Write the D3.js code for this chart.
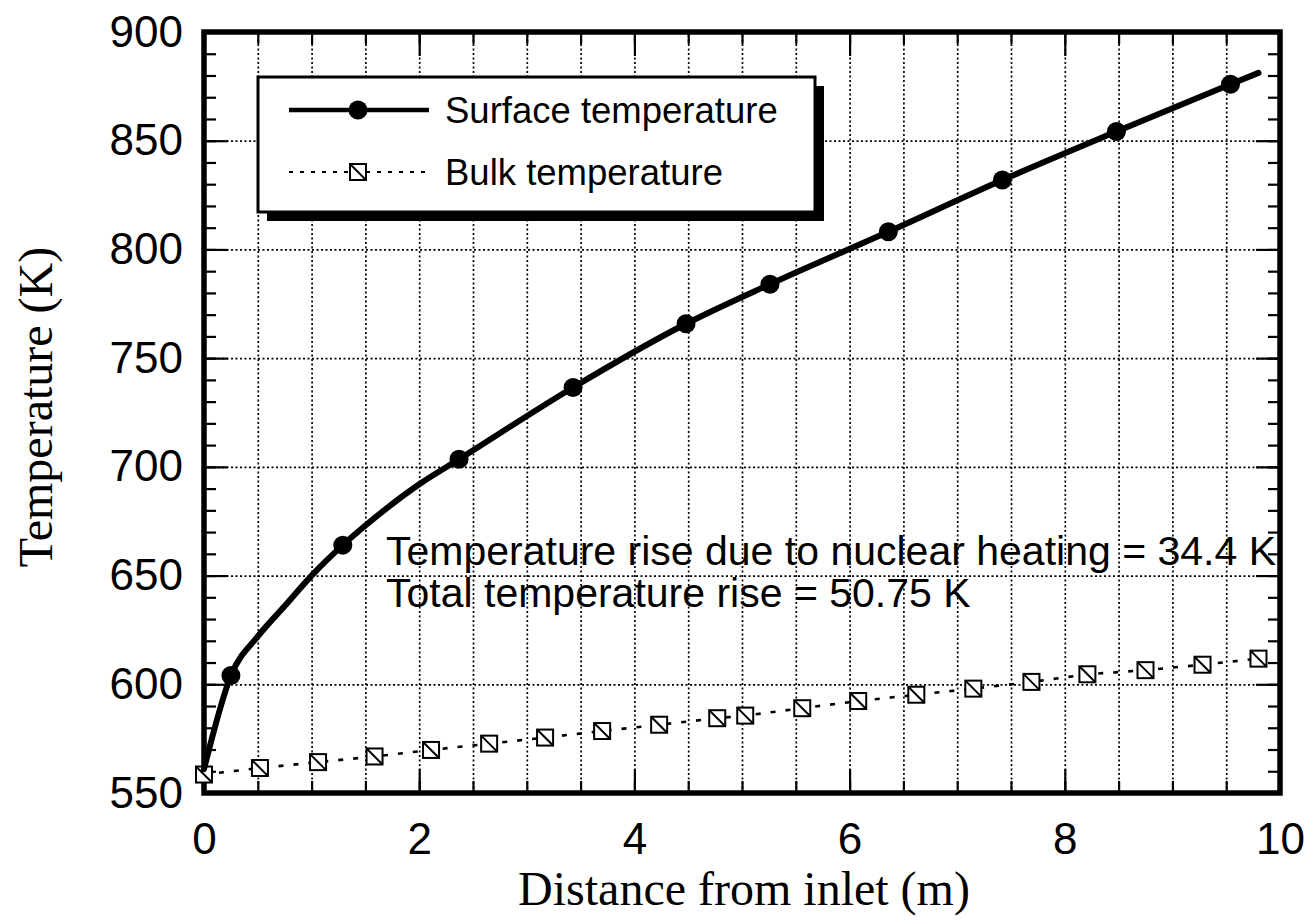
<!DOCTYPE html>
<html>
<head>
<meta charset="utf-8">
<script src="https://cdn.jsdelivr.net/npm/d3@7"></script>
<style>
  html, body { margin: 0; padding: 0; background: #fff; }
  svg { display: block; }
</style>
</head>
<body>
<svg id="chart" width="1315" height="921"></svg>
<script>
// ---------------- data ----------------
const xTickLabels = [0, 2, 4, 6, 8, 10];
const yTickLabels = [550, 600, 650, 700, 750, 800, 850, 900];

// Surface temperature: the solid curve
const surfaceLineX = [0, 0.25, 0.5, 0.75, 1.0, 1.29, 1.5, 2.0, 2.37, 3.43, 4.48, 5.26, 6.36, 7.42, 8.48, 9.54, 9.8];
const surfaceLineY = [561, 604, 622, 636, 650, 664, 673, 692, 703.5, 736.5, 765.8, 784, 808.1, 831.9, 854.2, 876, 881.2];
// Surface temperature: the filled circle markers
const surfaceMarkX = [0.25, 1.29, 2.37, 3.43, 4.48, 5.26, 6.36, 7.42, 8.48, 9.54];
const surfaceMarkY = [604, 664, 703.5, 736.5, 765.8, 784, 808.1, 831.9, 854.2, 876];

// Bulk temperature: square markers joined by a dashed line
const bulkX = [0, 0.52, 1.06, 1.585, 2.11, 2.65, 3.17, 3.70, 4.23, 4.77, 5.03, 5.56, 6.08, 6.62, 7.15, 7.69, 8.21, 8.75, 9.28, 9.80];
const bulkY = [558.5, 561.5, 564.2, 566.8, 569.8, 572.7, 575.5, 578.5, 581.4, 584.4, 585.6, 589.0, 592.3, 595.2, 598.0, 601.1, 604.6, 606.5, 609.0, 611.8];

const seriesNames = ["Surface temperature", "Bulk temperature"];
const annotationLines = ["Temperature rise due to nuclear heating = 34.4 K", "Total temperature rise = 50.75 K"];
const xTitle = "Distance from inlet (m)";
const yTitle = "Temperature (K)";

// ---------------- layout ----------------
const L = 204, R = 1280, T = 32, B = 793;
const sans = "'Liberation Sans', Arial, sans-serif";
const serif = "'Liberation Serif', 'Times New Roman', serif";

const svg = d3.select("#chart");
const x = d3.scaleLinear().domain([0, 10]).range([L, R]);
const y = d3.scaleLinear().domain([550, 900]).range([B, T]);

const xMinor = d3.range(0, 10.001, 0.5);
const yMinor = d3.range(550, 900.001, 10);
const xGrid = d3.range(0.5, 9.99, 0.5);
const yGrid = yTickLabels.filter(v => v > 550 && v < 900);

// grid
const grid = svg.append("g");
grid.append("g").attr("transform", `translate(0,${B})`)
  .call(d3.axisBottom(x).tickValues(xGrid).tickSize(-(B - T)).tickFormat(""))
  .call(g => g.select(".domain").remove());
grid.append("g").attr("transform", `translate(${L},0)`)
  .call(d3.axisLeft(y).tickValues(yGrid).tickSize(-(R - L)).tickFormat(""))
  .call(g => g.select(".domain").remove());
grid.selectAll("line").attr("stroke", "#000").attr("stroke-width", 1.7).attr("stroke-dasharray", "2,2.5");

// ticks (inward, all four sides)
function styleAxis(g) { g.select(".domain").remove(); g.selectAll("line").attr("stroke", "#000").attr("stroke-width", 2.2); }
const minorLen = 12, majorLen = 24;
svg.append("g").attr("transform", `translate(0,${B})`).call(d3.axisBottom(x).tickValues(xMinor).tickSize(-minorLen).tickFormat("")).call(styleAxis);
svg.append("g").attr("transform", `translate(0,${T})`).call(d3.axisTop(x).tickValues(xMinor).tickSize(-minorLen).tickFormat("")).call(styleAxis);
svg.append("g").attr("transform", `translate(${L},0)`).call(d3.axisLeft(y).tickValues(yMinor).tickSize(-minorLen).tickFormat("")).call(styleAxis);
svg.append("g").attr("transform", `translate(${R},0)`).call(d3.axisRight(y).tickValues(yMinor).tickSize(-minorLen).tickFormat("")).call(styleAxis);

const xAx = svg.append("g").attr("transform", `translate(0,${B})`)
  .call(d3.axisBottom(x).tickValues(xTickLabels).tickSize(-majorLen).tickPadding(30).tickFormat(d3.format("d")))
  .call(styleAxis);
svg.append("g").attr("transform", `translate(0,${T})`).call(d3.axisTop(x).tickValues(xTickLabels).tickSize(-majorLen).tickFormat("")).call(styleAxis);
const yAx = svg.append("g").attr("transform", `translate(${L},0)`)
  .call(d3.axisLeft(y).tickValues(yTickLabels).tickSize(-majorLen).tickPadding(21).tickFormat(d3.format("d")))
  .call(styleAxis);
svg.append("g").attr("transform", `translate(${R},0)`).call(d3.axisRight(y).tickValues(yTickLabels).tickSize(-majorLen).tickFormat("")).call(styleAxis);

[xAx, yAx].forEach(a => a.selectAll("text").attr("font-family", sans).attr("font-size", 44).attr("fill", "#000"));

// frame
svg.append("rect").attr("x", L).attr("y", T).attr("width", R - L).attr("height", B - T)
  .attr("fill", "none").attr("stroke", "#000").attr("stroke-width", 5.5);

// annotation
const ann = svg.append("text").attr("font-family", sans).attr("font-size", 41).attr("fill", "#000");
annotationLines.forEach((t, i) => ann.append("tspan").attr("x", 386).attr("y", 565 + i * 42).text(t));

// bulk series
const bulk = bulkX.map((d, i) => [d, bulkY[i]]);
svg.append("path").datum(bulk)
  .attr("d", d3.line().x(d => x(d[0])).y(d => y(d[1])))
  .attr("fill", "none").attr("stroke", "#000").attr("stroke-width", 2.6).attr("stroke-dasharray", "5,10");
const S = 16;
function square(g, cx, cy) {
  g.append("rect").attr("x", cx - S / 2).attr("y", cy - S / 2).attr("width", S).attr("height", S)
    .attr("fill", "#fff").attr("stroke", "#000").attr("stroke-width", 2);
  g.append("line").attr("x1", cx - S / 2).attr("y1", cy - S / 2).attr("x2", cx + S / 2).attr("y2", cy + S / 2)
    .attr("stroke", "#000").attr("stroke-width", 2);
}
const bulkG = svg.append("g");
bulk.forEach(p => square(bulkG, x(p[0]), y(p[1])));

// surface series
const surf = surfaceLineX.map((d, i) => [d, surfaceLineY[i]]);
svg.append("path").datum(surf)
  .attr("d", d3.line().x(d => x(d[0])).y(d => y(d[1])).curve(d3.curveMonotoneX))
  .attr("fill", "none").attr("stroke", "#000").attr("stroke-width", 6).attr("stroke-linejoin", "round").attr("stroke-linecap", "round");
svg.append("g").selectAll("circle").data(surfaceMarkX.map((d, i) => [d, surfaceMarkY[i]])).join("circle")
  .attr("cx", d => x(d[0])).attr("cy", d => y(d[1])).attr("r", 9.5).attr("fill", "#000");

// legend
const lg = svg.append("g");
const bx = 258, by = 77, bw = 557, bh = 135, sh = 9;
lg.append("rect").attr("x", bx + sh).attr("y", by + sh).attr("width", bw).attr("height", bh).attr("fill", "#000");
lg.append("rect").attr("x", bx).attr("y", by).attr("width", bw).attr("height", bh).attr("fill", "#fff").attr("stroke", "#000").attr("stroke-width", 3);
lg.append("line").attr("x1", 289).attr("x2", 429).attr("y1", 110).attr("y2", 110).attr("stroke", "#000").attr("stroke-width", 4.5);
lg.append("circle").attr("cx", 358).attr("cy", 110).attr("r", 9.5).attr("fill", "#000");
lg.append("line").attr("x1", 289).attr("x2", 429).attr("y1", 172).attr("y2", 172).attr("stroke", "#000").attr("stroke-width", 2.2).attr("stroke-dasharray", "4,7");
square(lg, 358, 172);
seriesNames.forEach((n, i) => lg.append("text").attr("x", 445).attr("y", 123 + i * 62)
  .attr("font-family", sans).attr("font-size", 36.5).attr("fill", "#000").text(n));

// axis titles
svg.append("text").attr("x", 744).attr("y", 905).attr("text-anchor", "middle")
  .attr("font-family", serif).attr("font-size", 48).attr("fill", "#000").text(xTitle);
svg.append("text").attr("transform", "translate(52,407) rotate(-90)").attr("text-anchor", "middle")
  .attr("font-family", serif).attr("font-size", 48).attr("fill", "#000").text(yTitle);
</script>
</body>
</html>
